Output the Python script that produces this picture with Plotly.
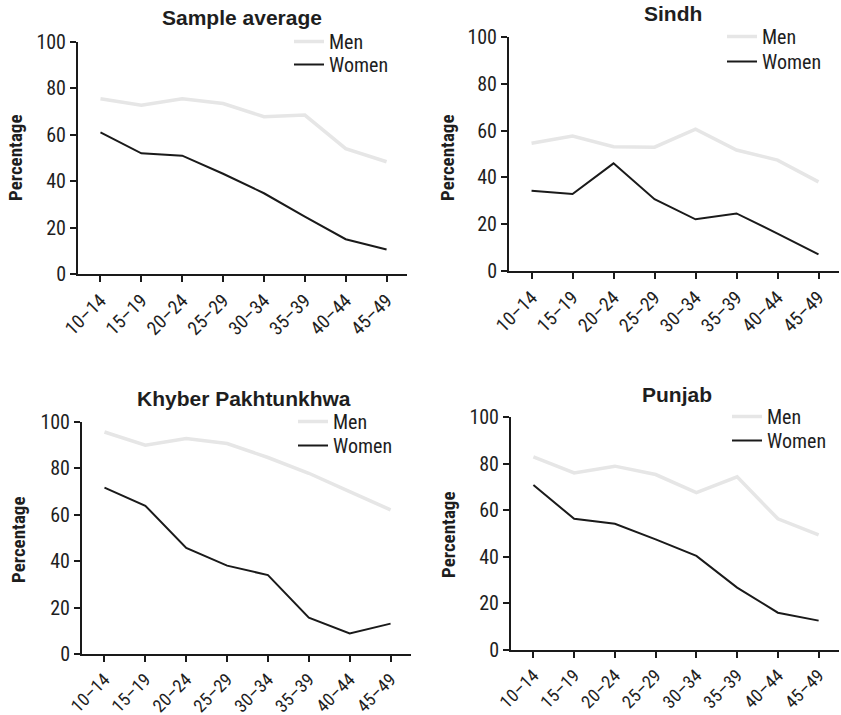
import plotly.graph_objects as go

W, H = 841, 715

categories = ["10–14", "15–19", "20–24", "25–29", "30–34", "35–39", "40–44", "45–49"]
y_ticks = [0, 20, 40, 60, 80, 100]

panel_titles = ["Sample average", "Sindh", "Khyber Pakhtunkhwa", "Punjab"]

men_sample = [75.5, 72.7, 75.5, 73.5, 67.8, 68.5, 54.0, 48.4]
women_sample = [61.0, 52.0, 51.0, 43.2, 34.8, 24.7, 15.0, 10.6]

men_sindh = [54.6, 57.7, 53.1, 52.9, 60.6, 51.7, 47.4, 38.1]
women_sindh = [34.3, 32.9, 46.0, 30.7, 22.1, 24.6, 16.0, 7.1]

men_kp = [95.7, 90.0, 92.9, 90.7, 84.7, 77.9, 70.0, 62.1]
women_kp = [71.7, 63.9, 45.7, 38.1, 34.0, 15.7, 8.9, 13.1]

men_punjab = [82.9, 76.0, 78.9, 75.3, 67.5, 74.3, 56.3, 49.4]
women_punjab = [70.8, 56.3, 54.2, 47.5, 40.4, 26.8, 16.0, 12.6]

men_series = [men_sample, men_sindh, men_kp, men_punjab]
women_series = [women_sample, women_sindh, women_kp, women_punjab]

# layout in pixels: (x_left, x_right, y_top, y_bottom)
panels_px = [
    (78, 407, 42, 274),
    (509, 839, 37, 271),
    (82, 411, 422, 654),
    (511, 839, 417, 650),
]
title_px = [(242, 17), (673, 14), (244, 399), (677, 394)]
ylabel_px = [(15, 158), (447, 158), (18, 540), (448, 535)]
# legend boxes: (left, top for Men, top for Women)
legend_px = [(289, 22, 45), (722, 17, 42), (293, 402, 426), (727, 397, 421)]
xtick_size = [19, 19, 18, 18]

NARROW = "Liberation Sans Narrow, Arial Narrow, Roboto Condensed, sans-serif"
BOLD = "Liberation Sans, Arial, sans-serif"
TXT = "#1e1e1e"

fig = go.Figure()
annotations = []
layout = dict(
    width=W, height=H,
    margin=dict(l=0, r=0, t=0, b=0, autoexpand=False),
    paper_bgcolor="white", plot_bgcolor="white",
    showlegend=True,
    font=dict(family=NARROW, size=20, color=TXT),
)

for i in range(4):
    n = "" if i == 0 else str(i + 1)
    xl, xr, yt, yb = panels_px[i]
    leg_men = "legend" if i == 0 else f"legend{2 * i + 1}"
    leg_women = f"legend{2 * i + 2}"
    fig.add_trace(go.Scatter(
        x=categories, y=men_series[i], mode="lines", name="Men",
        line=dict(color="#e6e6e6", width=3.5),
        xaxis="x" + n, yaxis="y" + n, legend=leg_men,
    ))
    fig.add_trace(go.Scatter(
        x=categories, y=women_series[i], mode="lines", name="Women",
        line=dict(color="#1a1a1a", width=2),
        xaxis="x" + n, yaxis="y" + n, legend=leg_women,
    ))
    layout["xaxis" + n] = dict(
        domain=[xl / W, xr / W], anchor="y" + n,
        type="category", categoryorder="array", categoryarray=categories,
        range=[-0.55, 7.5],
        showline=True, linecolor="#1a1a1a", linewidth=2,
        ticks="outside", ticklen=6, tickwidth=2, tickcolor="#1a1a1a",
        tickangle=-45, showgrid=False, zeroline=False,
        tickfont=dict(family=NARROW, size=xtick_size[i], color=TXT),
        fixedrange=True, automargin=False,
    )
    layout["yaxis" + n] = dict(
        domain=[1 - yb / H, 1 - yt / H], anchor="x" + n,
        range=[0, 100], tickvals=y_ticks,
        showline=True, linecolor="#1a1a1a", linewidth=2,
        ticks="outside", ticklen=6, tickwidth=2, tickcolor="#1a1a1a",
        showgrid=False, zeroline=False,
        tickfont=dict(family=NARROW, size=20, color=TXT),
        fixedrange=True, automargin=False,
    )
    lx, ly_m, ly_w = legend_px[i]
    for name, ly in ((leg_men, ly_m), (leg_women, ly_w)):
        layout[name] = dict(
            x=lx / W, y=1 - ly / H, xanchor="left", yanchor="top",
            bgcolor="rgba(0,0,0,0)", borderwidth=0,
            font=dict(family=NARROW, size=20, color=TXT),
            tracegroupgap=0, itemwidth=30,
        )
    tx, ty = title_px[i]
    annotations.append(dict(
        text="<b>" + panel_titles[i] + "</b>", x=tx / W, y=1 - ty / H,
        xref="paper", yref="paper", showarrow=False,
        xanchor="center", yanchor="middle",
        font=dict(family=BOLD, size=21, color=TXT),
    ))
    px_, py_ = ylabel_px[i]
    annotations.append(dict(
        text="<b>Percentage</b>", x=px_ / W, y=1 - py_ / H,
        xref="paper", yref="paper", showarrow=False, textangle=-90,
        xanchor="center", yanchor="middle",
        font=dict(family=NARROW, size=19, color=TXT),
    ))

layout["annotations"] = annotations
fig.update_layout(**layout)
fig.write_html(
    "out.html",
    config={"displayModeBar": False},
    post_script="document.body.style.margin='0';document.body.style.padding='0';",
)
